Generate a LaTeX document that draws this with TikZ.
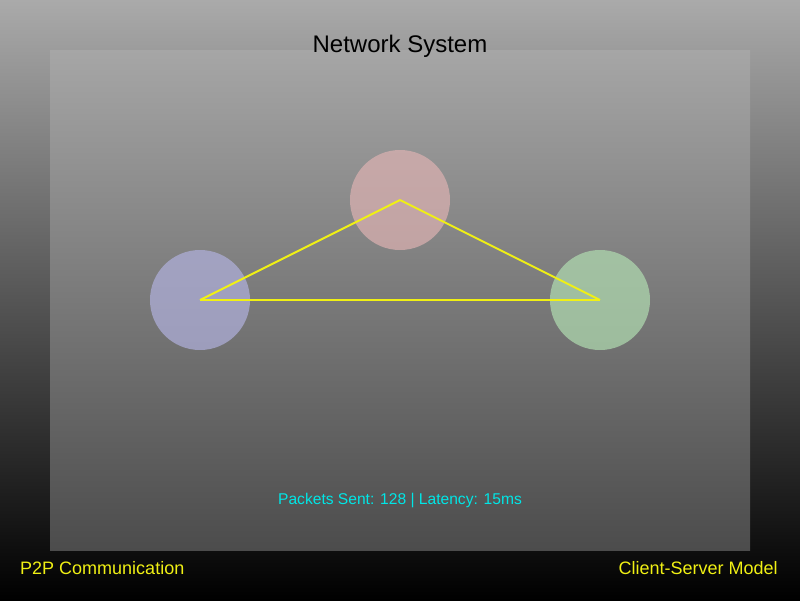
\documentclass[tikz,border=0pt]{standalone}
\usepackage{fontspec}
\setmainfont{Liberation Sans}
\usepackage{tikz}

\definecolor{peerblue}{RGB}{177,177,221}
\definecolor{peerpink}{RGB}{221,178,178}
\definecolor{peergreen}{RGB}{177,221,177}
\definecolor{linkyellow}{RGB}{240,240,20}
\definecolor{statcyan}{RGB}{0,230,230}

\begin{document}
\begin{tikzpicture}[x=1pt,y=-1pt,thick,
                    peer node/.style={circle,minimum size=100pt,inner sep=0pt,fill opacity=0.7},
                    link/.style={draw=linkyellow,line width=2pt},
                    foot label/.style={text=linkyellow,font=\fontsize{18}{21}\selectfont}]
                \useasboundingbox (0,0) rectangle (800,600);
                \shade[top color={rgb,255:red,170;green,170;blue,170},bottom color=black] (0,0) rectangle (800,600);
                \shade[top color={rgb,255:red,166;green,166;blue,166},bottom color={rgb,255:red,76;green,76;blue,76}] (50,50) rectangle (750,550);
                \node (title) at (400,46) {\fontsize{24}{28}\selectfont Network System};
                \node[peer node,fill=peerblue] (A) at (200,300) {};
                \node[peer node,fill=peerpink] (B) at (400,200) {};
                \node[peer node,fill=peergreen] (C) at (600,300) {};
                \path[link]
                    (A.center) edge (B.center)
                    (B.center) edge (C.center)
                    (C.center) edge (A.center);
                \node[text=statcyan,font=\fontsize{15.6}{18}\selectfont] (stats) at (400,500) {Packets Sent: 128 | Latency: 15ms};
                \node[foot label,anchor=west] (p2p) at (16.5,568) {P2P Communication};
                \node[foot label,anchor=east] (cs) at (781.5,568) {Client-Server Model};
                \end{tikzpicture}
\end{document}
